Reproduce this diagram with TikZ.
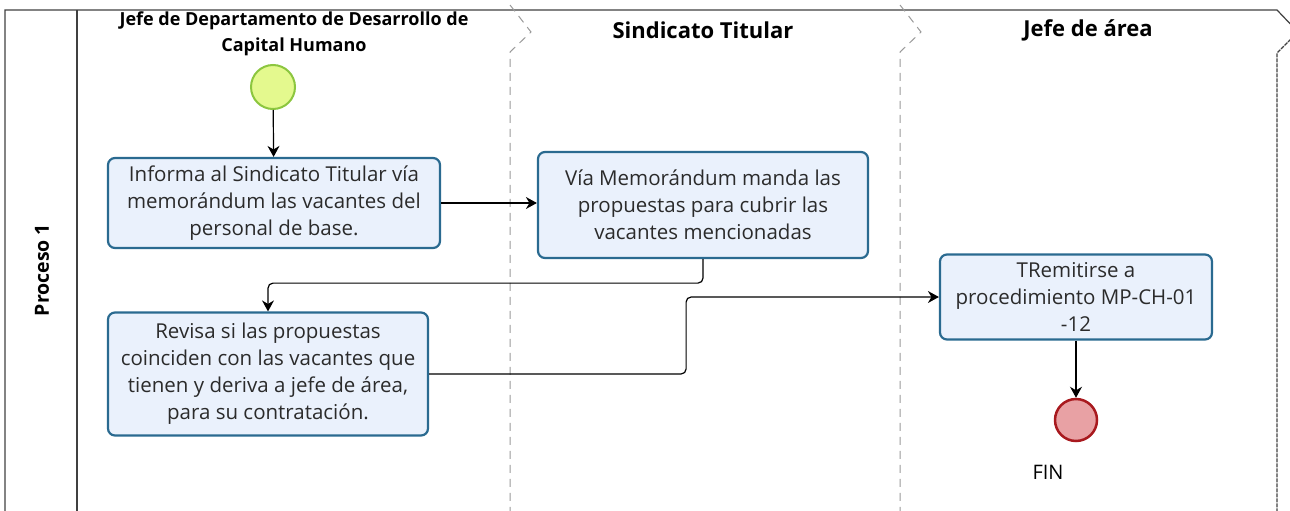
\documentclass[tikz,border=0pt]{standalone}
\usepackage{fontspec}
\setmainfont{Open Sans}
\usetikzlibrary{arrows.meta,positioning}
\definecolor{cajaborde}{HTML}{2A6A90}
\definecolor{cajafondo}{HTML}{EAF1FC}
\definecolor{iniborde}{HTML}{8CC63F}
\definecolor{inifondo}{HTML}{E4F98E}
\definecolor{finborde}{HTML}{A8191E}
\definecolor{finfondo}{HTML}{E8A1A4}
\definecolor{carril}{HTML}{9A9A9A}
\definecolor{marco}{HTML}{404040}
\definecolor{texto}{HTML}{2B2B2B}
\begin{document}
\begin{tikzpicture}[x=1pt,y=-1pt,
  caja/.style={draw=cajaborde,fill=cajafondo,text=texto,line width=2.2pt,rounded corners=7pt,align=center,inner sep=0pt,font=\fontsize{20.5}{27}\selectfont},
  titulo/.style={align=center,font=\bfseries\fontsize{18}{26}\selectfont},
  carriltitulo/.style={font=\bfseries\fontsize{22}{26}\selectfont},
  flecha/.style={-{Stealth[length=11pt,width=12pt]},line width=1.2pt,rounded corners=5pt},
  divisor/.style={carril,line width=1pt,dash pattern=on 8pt off 6pt}]
  \useasboundingbox (0,0) rectangle (1290,511);
  \draw[marco,line width=1.2pt](5,511)--(5,10)--(1277,10)--(1298,32);%marco
  \draw[marco,line width=1.2pt](77,10)--(77,511);
  \draw[marco,line width=1.2pt,dash pattern=on 4pt off 1pt](1298,32)--(1277,53)--(1277,511);
  \draw[divisor](510,5)--(531,32)--(510,52)--(510,511);%carriles
  \draw[divisor](900,5)--(921,32)--(900,52)--(900,511);
  \node[titulo,font=\bfseries\fontsize{19.5}{26}\selectfont,rotate=90](proceso) at (42,270){Proceso 1};
  \node[titulo](jefedep) at (294,34){Jefe de Departamento de Desarrollo de\\Capital Humano};
  \node[carriltitulo](sindicato) at (703,30){Sindicato Titular};
  \node[carriltitulo](jefearea) at (1088,30){Jefe de área};
  \node[circle,draw=iniborde,fill=inifondo,line width=2pt,minimum size=44pt](inicio) at (273,87){};
  \node[caja,minimum width=332pt,minimum height=90pt](informa) at (274,203){Informa al Sindicato Titular vía\\memorándum las vacantes del\\personal de base.};
  \node[caja,minimum width=330pt,minimum height=106pt](manda) at (703,205){Vía Memorándum manda las\\propuestas para cubrir las\\vacantes mencionadas};
  \node[caja,minimum width=320pt,minimum height=123pt](revisa) at (268,374){Revisa si las propuestas\\coinciden con las vacantes que\\tienen y deriva a jefe de área,\\para su contratación.};
  \node[caja,minimum width=272pt,minimum height=85pt](remitir) at (1076,297){TRemitirse a\\procedimiento MP-CH-01\\-12};
  \node[circle,draw=finborde,fill=finfondo,line width=2.5pt,minimum size=42pt](fin) at (1076,420){};
  \node[font=\fontsize{20}{22}\selectfont](finlabel) at (1048,472){FIN};
  \draw[flecha](inicio)--(informa);
  \draw[flecha](informa.east)--(informa.east-|manda.west);
  \draw[flecha](manda.south)--++(0,24)-|(revisa.north);
  \draw[flecha](revisa.east)--++(257,0)|-(remitir.west);
  \draw[flecha](remitir)--(fin);
\end{tikzpicture}
\end{document}
